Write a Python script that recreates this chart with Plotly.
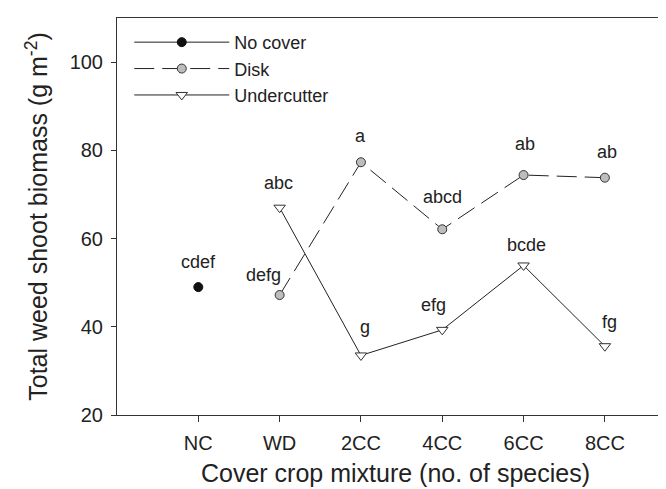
import plotly.graph_objects as go

categories = ["NC", "WD", "2CC", "4CC", "6CC", "8CC"]
xpos = [1, 2, 3, 4, 5, 6]

nocover_x = [1]
nocover_y = [49.0]
nocover_lbl = ["cdef"]

disk_x = [2, 3, 4, 5, 6]
disk_y = [47.2, 77.3, 62.1, 74.4, 73.8]
disk_lbl = ["defg", "a", "abcd", "ab", "ab"]

under_x = [2, 3, 4, 5, 6]
under_y = [67.0, 33.5, 39.3, 53.9, 35.6]
under_lbl = ["abc", "g", "efg", "bcde", "fg"]

# label anchor offsets (data units) relative to point
nocover_lbl_pos = [(0.0, 5.7)]
disk_lbl_pos = [(-0.2, 4.5), (0.0, 6.0), (0.0, 7.3), (0.02, 7.1), (0.03, 5.8)]
under_lbl_pos = [(-0.01, 5.6), (0.05, 6.5), (-0.11, 5.6), (0.03, 4.6), (0.06, 5.5)]

FONT = "Liberation Sans, Arial, sans-serif"
INK = "#222222"

fig = go.Figure()
fig.add_trace(go.Scatter(
    x=nocover_x, y=nocover_y, mode="lines+markers", name="No cover",
    line=dict(color=INK, width=1),
    marker=dict(symbol="circle", size=9, color="#111111", line=dict(color="#111111", width=1)),
))
fig.add_trace(go.Scatter(
    x=disk_x, y=disk_y, mode="lines+markers", name="Disk",
    line=dict(color=INK, width=1, dash="20px,8px"),
    marker=dict(symbol="circle", size=9, color="#bdbdbd", line=dict(color="#333333", width=1)),
))
fig.add_trace(go.Scatter(
    x=under_x, y=under_y, mode="lines+markers", name="Undercutter",
    line=dict(color=INK, width=1),
    marker=dict(symbol="triangle-down", size=10, color="white", line=dict(color="#333333", width=1)),
))

for xs, ys, lbls, offs in [(nocover_x, nocover_y, nocover_lbl, nocover_lbl_pos),
                           (disk_x, disk_y, disk_lbl, disk_lbl_pos),
                           (under_x, under_y, under_lbl, under_lbl_pos)]:
    for x, y, t, (dx, dy) in zip(xs, ys, lbls, offs):
        fig.add_annotation(x=x + dx, y=y + dy, text=t, showarrow=False,
                           font=dict(family=FONT, size=18, color=INK),
                           xanchor="center", yanchor="middle")

fig.update_layout(
    width=666, height=489,
    margin=dict(l=109, r=0, t=10, b=82),
    paper_bgcolor="white", plot_bgcolor="white",
    font=dict(family=FONT, color=INK),
    showlegend=True,
    legend=dict(x=0.022, y=0.985, xanchor="left", yanchor="top",
                bgcolor="rgba(0,0,0,0)", font=dict(family=FONT, size=18, color=INK),
                tracegroupgap=0, itemwidth=95),
    xaxis=dict(range=[0, 6.85], tickvals=xpos, ticktext=categories,
               showline=True, linecolor="#333333", linewidth=1, mirror=True,
               ticks="outside", ticklen=6, tickcolor="#333333",
               showgrid=False, zeroline=False, ticklabelstandoff=4,
               tickfont=dict(family=FONT, size=20, color=INK),
               title=dict(text="Cover crop mixture (no. of species)",
                          font=dict(family=FONT, size=25, color=INK), standoff=11)),
    yaxis=dict(range=[20, 110], tickvals=[20, 40, 60, 80, 100],
               showline=True, linecolor="#333333", linewidth=1,
               ticks="outside", ticklen=5, tickcolor="#333333",
               showgrid=False, zeroline=False, ticklabelstandoff=4,
               tickfont=dict(family=FONT, size=20, color=INK),
               title=dict(text="Total weed shoot biomass (g m<sup>-2</sup>)",
                          font=dict(family=FONT, size=25, color=INK), standoff=14)),
)

fig.write_html("out.html")
